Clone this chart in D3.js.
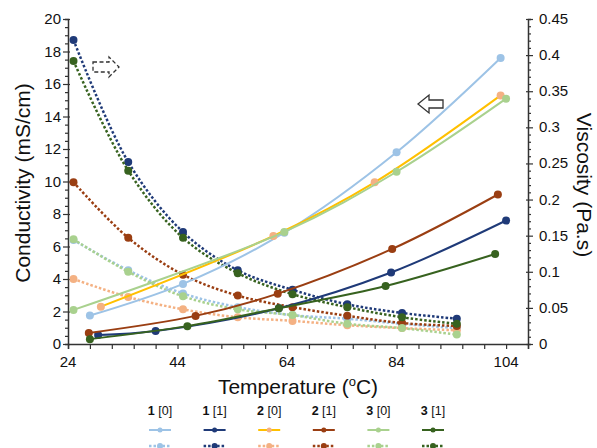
<!DOCTYPE html>
<html>
<head>
<meta charset="utf-8">
<script src="https://cdn.jsdelivr.net/npm/d3@7"></script>
<style>
  body { margin: 0; background: #fff; }
  text { font-family: 'Liberation Sans', Arial, sans-serif; fill: #111; }
</style>
</head>
<body>
<svg></svg>
<script>
// viscosity measured every 10 degrees
const visTemps = [25, 35, 45, 55, 65, 75, 85, 95];
const vis10 = [0.144, 0.102, 0.070, 0.051, 0.040, 0.035, 0.028, 0.022];
const vis11 = [0.421, 0.252, 0.155, 0.102, 0.075, 0.055, 0.043, 0.035];
const vis20 = [0.090, 0.065, 0.048, 0.037, 0.032, 0.026, 0.022, 0.019];
const vis21 = [0.224, 0.147, 0.096, 0.067, 0.051, 0.039, 0.029, 0.025];
const vis30 = [0.145, 0.100, 0.066, 0.048, 0.040, 0.028, 0.022, 0.013];
const vis31 = [0.392, 0.240, 0.147, 0.098, 0.069, 0.051, 0.037, 0.028];

// conductivity, temperatures differ per sample
const condT10 = [28, 45, 63.5, 84, 103];
const cond10 = [1.75, 3.7, 6.85, 11.8, 17.6];
const condT11 = [29.5, 40, 62.5, 83, 104];
const cond11 = [0.55, 0.8, 2.2, 4.4, 7.6];
const condT20 = [30, 61.5, 80, 103];
const cond20 = [2.3, 6.65, 9.95, 15.3];
const condT21 = [27.8, 47.3, 62.3, 83.2, 102.5];
const cond21 = [0.68, 1.73, 3.1, 5.85, 9.2];
const condT30 = [25, 63.5, 84, 104];
const cond30 = [2.1, 6.9, 10.6, 15.1];
const condT31 = [28, 45.8, 62.5, 82, 102];
const cond31 = [0.3, 1.1, 2.2, 3.57, 5.54];

const xTicks = [24, 44, 64, 84, 104];
const yTicks = [0, 2, 4, 6, 8, 10, 12, 14, 16, 18, 20];
const y2Ticks = [0, 0.05, 0.1, 0.15, 0.2, 0.25, 0.3, 0.35, 0.4, 0.45];

const samples = [
  { num: '1', tag: '[0]', line: '#9dc3e6', dot: '#9dc3e6', vdot: '#9dc3e6', ct: condT10, c: cond10, v: vis10 },
  { num: '1', tag: '[1]', line: '#1f3a78', dot: '#1f3a78', vdot: '#1f3a78', ct: condT11, c: cond11, v: vis11 },
  { num: '2', tag: '[0]', line: '#ffc000', dot: '#f4b183', vdot: '#f4b183', vline: '#f4b183', ct: condT20, c: cond20, v: vis20 },
  { num: '2', tag: '[1]', line: '#9a3e12', dot: '#9a3e12', vdot: '#9a3e12', ct: condT21, c: cond21, v: vis21 },
  { num: '3', tag: '[0]', line: '#a9d18e', dot: '#a9d18e', vdot: '#a9d18e', ct: condT30, c: cond30, v: vis30 },
  { num: '3', tag: '[1]', line: '#37621f', dot: '#37621f', vdot: '#37621f', ct: condT31, c: cond31, v: vis31 }
];

const width = 597, height = 448;
const svg = d3.select('svg').attr('width', width).attr('height', height);

const x = d3.scaleLinear().domain([24, 108]).range([68, 528]);
const y = d3.scaleLinear().domain([0, 20]).range([344, 19]);
const y2 = d3.scaleLinear().domain([0, 0.45]).range([344, 19]);

const axisColor = '#333';

// axes
const xAxis = svg.append('g').attr('transform', 'translate(0,344)');
xAxis.call(d3.axisBottom(x).tickValues(d3.range(24, 109, 4)).tickSize(5).tickFormat(''));
xAxis.append('g').selectAll('text')
  .data(xTicks).enter().append('text')
  .attr('x', d => x(d)).attr('y', 23)
  .attr('text-anchor', 'middle')
  .attr('font-size', 15)
  .text(d => d);

const yAxis = svg.append('g').attr('transform', 'translate(68,0)');
yAxis.call(d3.axisLeft(y).tickValues(d3.range(0, 20.01, 0.5)).tickSize(3).tickFormat(''));
yAxis.selectAll('.tick line').filter(d => d % 2 === 0).attr('x1', 2).attr('x2', -5);
yAxis.append('g').selectAll('text')
  .data(yTicks).enter().append('text')
  .attr('x', -7).attr('y', d => y(d) + 5)
  .attr('text-anchor', 'end')
  .attr('font-size', 15)
  .text(d => d);

const y2Axis = svg.append('g').attr('transform', 'translate(528,0)');
y2Axis.call(d3.axisRight(y2).tickValues(d3.range(0, 0.4501, 0.01)).tickSize(3).tickFormat(''));
y2Axis.selectAll('.tick line').filter((d, i) => i % 5 === 0).attr('x1', -2).attr('x2', 5);
y2Axis.append('g').selectAll('text')
  .data(y2Ticks).enter().append('text')
  .attr('x', 11).attr('y', d => y2(d) + 5)
  .attr('text-anchor', 'start')
  .attr('font-size', 15)
  .text(d => d);

svg.selectAll('.domain').attr('stroke', axisColor).attr('stroke-width', 1.5);
svg.selectAll('.tick line').attr('stroke', axisColor).attr('stroke-width', 1.2);

// axis titles
svg.append('text')
  .attr('x', 298).attr('y', 394)
  .attr('text-anchor', 'middle')
  .attr('font-size', 21)
  .html('Temperature (<tspan dy="-8" font-size="13">o</tspan><tspan dy="8">C)</tspan>');

svg.append('text')
  .attr('transform', 'translate(30,183) rotate(-90)')
  .attr('text-anchor', 'middle')
  .attr('font-size', 21)
  .text('Conductivity (mS/cm)');

svg.append('text')
  .attr('transform', 'translate(577,185) rotate(90)')
  .attr('text-anchor', 'middle')
  .attr('font-size', 21)
  .text('Viscosity (Pa.s)');

// viscosity, dotted
const visLine = d3.line().curve(d3.curveCatmullRom)
  .x((d, i) => x(visTemps[i])).y(d => y2(d));

samples.forEach(s => {
  const g = svg.append('g');
  g.append('path')
    .attr('d', visLine(s.v))
    .attr('fill', 'none')
    .attr('stroke', s.vline || s.line)
    .attr('stroke-width', 2.5)
    .attr('stroke-dasharray', '2.5,2');
  g.selectAll('circle').data(s.v).enter().append('circle')
    .attr('cx', (d, i) => x(visTemps[i]))
    .attr('cy', d => y2(d))
    .attr('r', 4)
    .attr('fill', s.vdot);
});

// conductivity, solid
samples.forEach(s => {
  const line = d3.line().curve(d3.curveCatmullRom)
    .x((d, i) => x(s.ct[i])).y(d => y(d));
  const g = svg.append('g');
  g.append('path')
    .attr('d', line(s.c))
    .attr('fill', 'none')
    .attr('stroke', s.line)
    .attr('stroke-width', 2);
  g.selectAll('circle').data(s.c).enter().append('circle')
    .attr('cx', (d, i) => x(s.ct[i]))
    .attr('cy', d => y(d))
    .attr('r', 4)
    .attr('fill', s.dot);
});

// arrows
svg.append('path')
  .attr('d', 'M93,62 L109,62 L109,57 L119,67 L109,77 L109,72 L93,72 Z')
  .attr('fill', 'none').attr('stroke', '#333').attr('stroke-width', 1.3)
  .attr('stroke-dasharray', '4,2.5');
svg.append('path')
  .attr('d', 'M443,100 L429,100 L429,95 L418,104 L429,113 L429,108 L443,108 Z')
  .attr('fill', 'none').attr('stroke', '#333').attr('stroke-width', 1.3);

// legend
const legend = svg.append('g').selectAll('g')
  .data(samples).enter().append('g')
  .attr('transform', (d, i) => 'translate(' + (160 + i * 54.6) + ',0)');

const lab = legend.append('text')
  .attr('y', 415).attr('text-anchor', 'middle').attr('font-size', 12.5);
lab.append('tspan').attr('font-weight', 'bold').text(d => d.num);
lab.append('tspan').text(d => ' ' + d.tag);

legend.append('line')
  .attr('x1', -11).attr('x2', 11).attr('y1', 430).attr('y2', 430)
  .attr('stroke', d => d.line).attr('stroke-width', 2);
legend.append('circle')
  .attr('cx', 0).attr('cy', 430).attr('r', 2.5)
  .attr('fill', d => d.dot);
legend.append('line')
  .attr('x1', -11).attr('x2', 11).attr('y1', 446).attr('y2', 446)
  .attr('stroke', d => d.vline || d.line).attr('stroke-width', 2.5)
  .attr('stroke-dasharray', '2.5,2');
legend.append('circle')
  .attr('cx', 0).attr('cy', 446).attr('r', 3)
  .attr('fill', d => d.vdot);
</script>
</body>
</html>
